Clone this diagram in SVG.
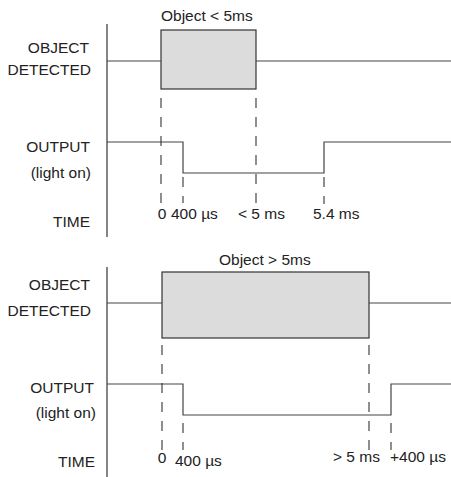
<svg xmlns="http://www.w3.org/2000/svg" width="451" height="477" viewBox="0 0 451 477">
<style>
  .lbl { font-family: "Liberation Sans", Arial, sans-serif; font-size: 15.5px; fill: #222; }
  .end { text-anchor: end; }
  .mid { text-anchor: middle; }
  .ln { stroke: #333; stroke-width: 1.2; fill: none; }
  .sig { stroke: #444; stroke-width: 1.2; fill: none; }
  .box { fill: #dcdcdc; stroke: #333; stroke-width: 1.2; }
  .dash { stroke: #333; stroke-width: 1.1; stroke-dasharray: 10 9; fill: none; }
</style>
<rect width="451" height="477" fill="#fff"/>

<g id="top-labels">
  <text class="lbl end" x="89" y="53">OBJECT</text>
  <text class="lbl end" x="91" y="75">DETECTED</text>
  <text class="lbl end" x="90" y="152">OUTPUT</text>
  <text class="lbl end" x="91" y="178">(light on)</text>
  <text class="lbl end" x="90" y="227">TIME</text>
</g>
<g id="top-object">
  <rect class="box" x="161" y="30" width="95" height="59"/>
  <text class="lbl" x="161" y="21">Object &lt; 5ms</text>
</g>
<g id="top-signals">
  <line class="ln" x1="107" y1="24" x2="107" y2="237"/>
  <polyline class="sig" points="107,61 161,61"/>
  <polyline class="sig" points="256,61 451,61"/>
  <polyline class="sig" points="107,142 183,142 183,173 324,173 324,142 451,142"/>
</g>
<g id="top-connectors">
  <line class="dash" x1="161" y1="98" x2="161" y2="203"/>
  <line class="dash" x1="183" y1="177" x2="183" y2="203"/>
  <line class="dash" x1="256" y1="98" x2="256" y2="203"/>
  <line class="dash" x1="324" y1="177" x2="324" y2="204"/>
</g>
<g id="top-times">
  <text class="lbl mid" x="162" y="219">0</text>
  <text class="lbl" x="171" y="219">400 µs</text>
  <text class="lbl" x="238" y="219">&lt; 5 ms</text>
  <text class="lbl" x="313" y="219">5.4 ms</text>
</g>

<g id="bottom-labels">
  <text class="lbl end" x="90" y="290">OBJECT</text>
  <text class="lbl end" x="91" y="316">DETECTED</text>
  <text class="lbl end" x="94" y="393">OUTPUT</text>
  <text class="lbl end" x="96" y="418">(light on)</text>
  <text class="lbl end" x="95" y="467">TIME</text>
</g>
<g id="bottom-object">
  <rect class="box" x="162" y="272" width="207" height="66"/>
  <text class="lbl" x="219" y="265">Object &gt; 5ms</text>
</g>
<g id="bottom-signals">
  <line class="ln" x1="107" y1="267" x2="107" y2="477"/>
  <polyline class="sig" points="107,303 162,303"/>
  <polyline class="sig" points="369,303 451,303"/>
  <polyline class="sig" points="107,384 183,384 183,415 391,415 391,384 451,384"/>
</g>
<g id="bottom-connectors">
  <line class="dash" x1="162" y1="345" x2="162" y2="450"/>
  <line class="dash" x1="183" y1="423" x2="183" y2="450"/>
  <line class="dash" x1="369" y1="345" x2="369" y2="450"/>
  <line class="dash" x1="391" y1="423" x2="391" y2="450"/>
</g>
<g id="bottom-times">
  <text class="lbl mid" x="162" y="463">0</text>
  <text class="lbl" x="175" y="466">400 µs</text>
  <text class="lbl" x="333" y="462">&gt; 5 ms</text>
  <text class="lbl" x="390" y="462">+400 µs</text>
</g>
</svg>
